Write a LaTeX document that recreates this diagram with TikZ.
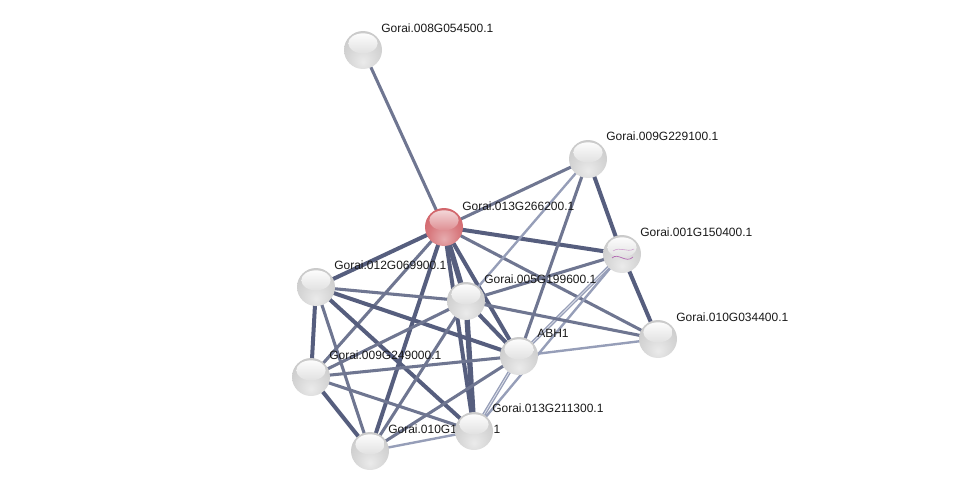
\documentclass[tikz,border=0pt]{standalone}
\usepackage{fontspec}
\setmainfont{Liberation Sans}
\usepackage{tikz}
\usetikzlibrary{calc}

\definecolor{edgedark}{RGB}{86,94,126}
\definecolor{edgelight}{RGB}{150,158,184}
\definecolor{ballred}{RGB}{206,88,94}

\pgfdeclareradialshading{greyball}{\pgfpoint{0bp}{-16bp}}{%
  color(0bp)=(white!92!black); color(20bp)=(black!16); color(45bp)=(black!24);
  color(60bp)=(black!32); color(66bp)=(black!48); color(100bp)=(black!48)}
\pgfdeclareradialshading{redball}{\pgfpoint{0bp}{-16bp}}{%
  color(0bp)=(white!50!ballred); color(20bp)=(white!20!ballred); color(45bp)=(ballred);
  color(60bp)=(black!8!ballred); color(66bp)=(black!30!ballred); color(100bp)=(black!30!ballred)}

\begin{document}
\begin{tikzpicture}[
    x=0.75pt, y=-0.75pt,
    prot/.style={circle, minimum size=28.5pt, inner sep=0pt, shading=greyball,
      path picture={\shade[top color=white, bottom color=black!20]
        ([yshift=5pt]path picture bounding box.center) ellipse [x radius=11pt, y radius=7.5pt];}},
    query/.style={circle, minimum size=28.5pt, inner sep=0pt, shading=redball,
      path picture={\shade[top color=white!80!ballred, bottom color=ballred]
        ([yshift=5pt]path picture bounding box.center) ellipse [x radius=11pt, y radius=7.5pt];}},
    lbl/.style={anchor=west, inner sep=0pt, font=\fontsize{9}{10}\selectfont, text=black!90},
    strong/.style={edgedark, line width=3pt},
    medium/.style={edgedark!85!white, line width=2.3pt},
    weak/.style={edgelight, line width=1.8pt}
]
\useasboundingbox (0,0) rectangle (976,496);

% Proteins (pixel positions)
\coordinate (p008) at (363,50);
\coordinate (p009a) at (588,159);
\coordinate (p013a) at (444,227);
\coordinate (p001) at (622,254);
\coordinate (p012) at (316,287);
\coordinate (p005) at (466,301);
\coordinate (p010a) at (658,339);
\coordinate (pabh) at (519,356);
\coordinate (p009b) at (311,377);
\coordinate (p013b) at (474,431);
\coordinate (p010b) at (370,451);

% Edges from the query protein
\draw[medium] (p008) -- (p013a);
\draw[medium] (p013a) -- (p009a);
\draw[strong] (p013a) -- (p001);
\draw[strong] (p013a) -- (p012);
\draw[strong, line width=4pt] (p013a) -- (p005);
\draw[medium] (p013a) -- (p010a);
\draw[medium] (p013a) -- (p009b);
\draw[strong] (p013a) -- (p010b);
\draw[strong] (p013a) -- (pabh);
\draw[strong] (p013a) -- (p013b);

% Other edges
\draw[weak] (p009a) -- (p005);
\draw[medium] (p009a) -- (pabh);
\draw[strong] (p009a) -- (p001);
\draw[medium] (p001) -- (p005);
\draw[strong] (p001) -- (p010a);
\draw[weak, line width=2.6pt] (p001) -- (pabh);
\draw[white!70!edgelight, line width=0.6pt] (p001) -- (pabh);
\draw[weak] (p001) -- (p013b);
\draw[medium] (p012) -- (p005);
\draw[strong] (p012) -- (pabh);
\draw[strong] (p012) -- (p009b);
\draw[medium] (p012) -- (p010b);
\draw[strong] (p012) -- (p013b);
\draw[medium] (p005) -- (p010a);
\draw[strong] (p005) -- (pabh);
\draw[medium] (p005) -- (p009b);
\draw[strong, line width=4pt] (p005) -- (p013b);
\draw[medium] (p005) -- (p010b);
\draw[weak] (p010a) -- (pabh);
\draw[medium] (pabh) -- (p009b);
\draw[weak, line width=2.6pt] (pabh) -- (p013b);
\draw[white!70!edgelight, line width=0.6pt] (pabh) -- (p013b);
\draw[medium] (pabh) -- (p010b);
\draw[medium] (p009b) -- (p013b);
\draw[strong] (p009b) -- (p010b);
\draw[weak] (p013b) -- (p010b);

% Labels
\node[lbl] (t008) at ($(p008)+(18,-22)$) {Gorai.008G054500.1};
\node[lbl] (t009a) at ($(p009a)+(18,-23)$) {Gorai.009G229100.1};
\node[lbl] (t013a) at ($(p013a)+(18,-21)$) {Gorai.013G266200.1};
\node[lbl] (t001) at ($(p001)+(18,-22)$) {Gorai.001G150400.1};
\node[lbl] (t012) at ($(p012)+(18,-22)$) {Gorai.012G069900.1};
\node[lbl] (t005) at ($(p005)+(18,-22)$) {Gorai.005G199600.1};
\node[lbl] (t010a) at ($(p010a)+(18,-22)$) {Gorai.010G034400.1};
\node[lbl] (tabh) at ($(pabh)+(18,-23)$) {ABH1};
\node[lbl] (t009b) at ($(p009b)+(18,-22)$) {Gorai.009G249000.1};
\node[lbl] (t013b) at ($(p013b)+(18,-23)$) {Gorai.013G211300.1};
\node[lbl] (t010b) at ($(p010b)+(18,-22)$) {Gorai.010G1\phantom{00000.}1};

% Balls
\node[prot] (n008) at (p008) {};
\node[prot] (n009a) at (p009a) {};
\node[query] (n013a) at (p013a) {};
\node[prot] (n001) at (p001) {};
\node[prot] (n012) at (p012) {};
\node[prot] (n005) at (p005) {};
\node[prot] (n010a) at (p010a) {};
\node[prot] (nabh) at (pabh) {};
\node[prot] (n009b) at (p009b) {};
\node[prot] (n013b) at (p013b) {};
\node[prot] (n010b) at (p010b) {};

% structure sketch inside Gorai.001G150400.1
\draw[violet!60, line width=0.5pt] ($(p001)+(-10,4)$) .. controls ($(p001)+(-4,-2)$) and ($(p001)+(4,10)$) .. ($(p001)+(11,3)$);
\draw[violet!40, line width=0.4pt] ($(p001)+(-9,-3)$) .. controls ($(p001)+(-2,-8)$) and ($(p001)+(5,-1)$) .. ($(p001)+(12,-5)$);
\end{tikzpicture}
\end{document}
